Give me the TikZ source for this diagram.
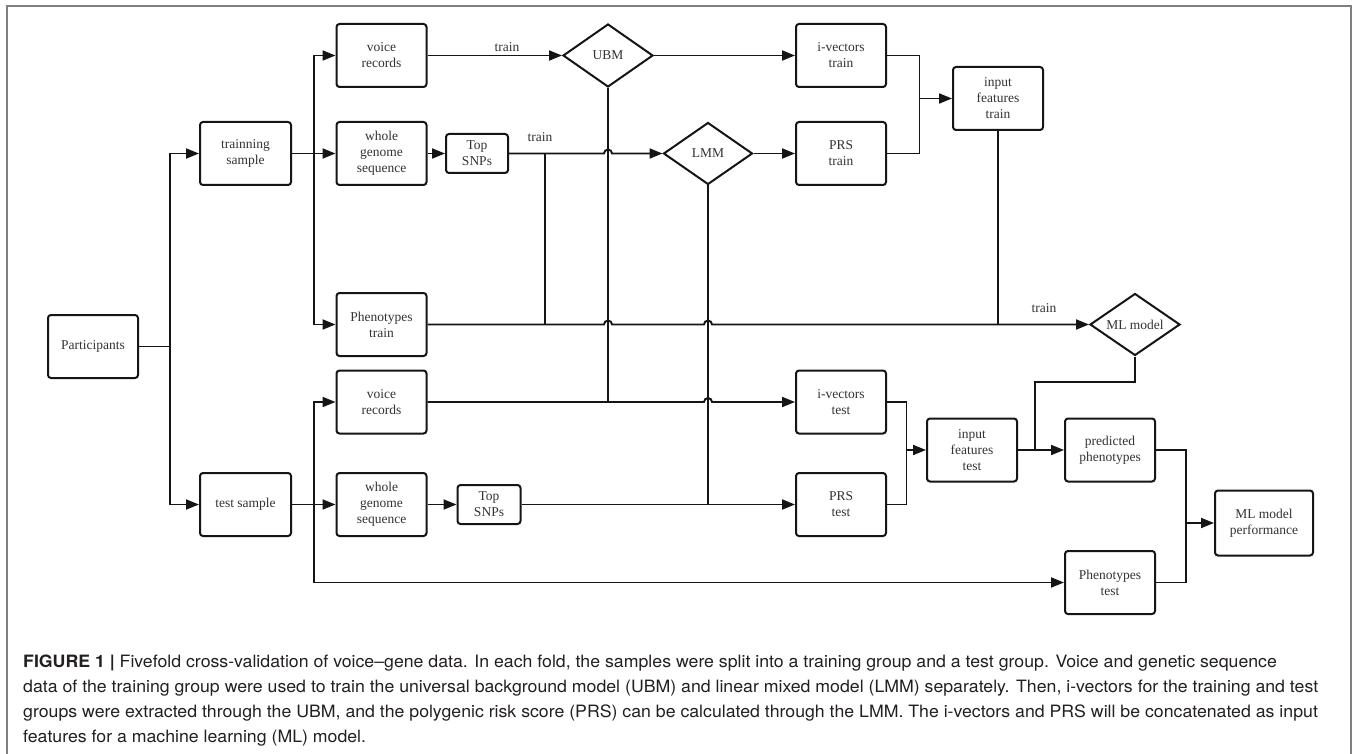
\documentclass[tikz,border=0pt]{standalone}
\usepackage{fontspec}
\setmainfont{Liberation Serif}
\newfontfamily\capfont{TeX Gyre Heros}
\usetikzlibrary{arrows.meta,shapes.geometric,calc}
\definecolor{txt}{HTML}{333333}
\definecolor{ln}{HTML}{151515}
\definecolor{frm}{HTML}{808080}
\definecolor{captxt}{HTML}{231F20}
\newsavebox\capbox
\begin{document}
\sbox\capbox{\capfont\fontsize{17}{25}\selectfont data of the training group were used to train the universal background model (UBM) and linear mixed model (LMM) separately. Then, i-vectors for the training and test}%
\pgfmathsetmacro\capsc{1295/\the\wd\capbox}%
\begin{tikzpicture}[x=1pt,y=-1pt,
  box/.style={draw=ln,line width=2pt,rounded corners=3pt,inner sep=0pt,align=center,text=txt,font=\fontsize{13.5}{16}\selectfont},
  sz/.style 2 args={minimum width=#1pt,minimum height=#2pt},
  dia/.style={draw=ln,line width=2pt,diamond,aspect=1.45,inner sep=0pt,text=txt,font=\fontsize{13.5}{16}\selectfont},
  conn/.style={draw=ln,line width=1.9pt},
  arr/.style={conn,-{Triangle[length=13pt,width=10pt]}},
  lbl/.style={text=txt,font=\fontsize{13.5}{16}\selectfont,inner sep=0pt},
  captionline/.style={anchor=base west,inner sep=0pt,text=captxt,font=\capfont\fontsize{17}{25}\selectfont}
]
\useasboundingbox (0,0) rectangle (1354,754);
\fill[white] (0,0) rectangle (1354,754);
\draw[frm,line width=1.4pt] (7,754) -- (7,6) -- (1351,6) -- (1351,754);

% nodes
\node[box,sz={90}{63}] (part) at (93,346.5) {Participants};
\node[box,sz={91}{63}] (trs) at (245.5,153.5) {trainning\\sample};
\node[box,sz={91}{63}] (tes) at (245.5,504.5) {test sample};
\node[box,sz={90}{63}] (vr1) at (381.5,55.5) {voice\\records};
\node[box,sz={90}{63}] (wg1) at (381.5,153.5) {whole\\genome\\sequence};
\node[box,sz={90}{63}] (ph1) at (381.5,324.5) {Phenotypes\\train};
\node[box,sz={62}{39}] (snp1) at (477,153.5) {Top\\SNPs};
\node[dia,minimum width=90pt,minimum height=63pt] (ubm) at (608,55.5) {UBM};
\node[dia,minimum width=89pt,minimum height=62pt] (lmm) at (708,153.5) {LMM};
\node[box,sz={90}{63}] (iv1) at (841,55.5) {i-vectors\\train};
\node[box,sz={90}{63}] (prs1) at (841,153.5) {PRS\\train};
\node[box,sz={90}{63}] (inf1) at (998,98.5) {input\\features\\train};
\node[dia,minimum width=90pt,minimum height=62pt] (ml) at (1135,324.5) {ML model};
\node[box,sz={90}{63}] (vr2) at (381.5,402) {voice\\records};
\node[box,sz={90}{63}] (wg2) at (381.5,504.5) {whole\\genome\\sequence};
\node[box,sz={63}{39}] (snp2) at (489,504.5) {Top\\SNPs};
\node[box,sz={90}{63}] (iv2) at (841,402) {i-vectors\\test};
\node[box,sz={90}{63}] (prs2) at (841,504.5) {PRS\\test};
\node[box,sz={90}{63}] (inf2) at (972,450) {input\\features\\test};
\node[box,sz={90}{63}] (pred) at (1110,450) {predicted\\phenotypes};
\node[box,sz={90}{63}] (ph2) at (1110,582.5) {Phenotypes\\test};
\node[box,sz={98}{65}] (perf) at (1264,523) {ML model\\performance};

% connectors
\coordinate (c1) at (170,346.5);
\draw[conn] (part.east) -- (c1);
\draw[arr] (c1) |- (trs.west);
\draw[arr] (c1) |- (tes.west);

\coordinate (c2) at ($(trs.east)!0.5!(wg1.west)$);
\draw[arr] (trs.east) -- (wg1.west);
\draw[arr] (c2) |- (vr1.west);
\draw[arr] (c2) |- (ph1.west);

\coordinate (c3) at ($(tes.east)!0.5!(wg2.west)$);
\draw[arr] (tes.east) -- (wg2.west);
\draw[arr] (c3) |- (vr2.west);
\draw[arr] (c3) |- (ph2.west);

\draw[arr] (vr1.east) -- (ubm.west);
\node[lbl] (t1) at (507,47) {train};
\draw[arr] (wg1.east) -- (snp1.west);
\draw[arr] (snp1.east) -- ($(ubm.south |- snp1.east)+(-4,0)$) arc[start angle=180,end angle=360,radius=4] -- (lmm.west);
\node[lbl] (t2) at (540,137) {train};
\coordinate (c4) at (545,153.5);
\draw[conn] (c4) -- (c4 |- ph1.east);

\draw[arr] (ph1.east) -- ($(ubm.south |- ph1.east)+(-4,0)$) arc[start angle=180,end angle=360,radius=4]
  -- ($(lmm.south |- ph1.east)+(-4,0)$) arc[start angle=180,end angle=360,radius=4] -- (ml.west);
\node[lbl] (t3) at (1044,308) {train};
\draw[conn] (inf1.south) -- (inf1.south |- ml.west);

\draw[arr] (ubm.east) -- (iv1.west);
\draw[arr] (lmm.east) -- (prs1.west);
\coordinate (m1) at (919.5,98.5);
\draw[conn] (iv1.east) -| (m1);
\draw[conn] (prs1.east) -| (m1);
\draw[arr] (m1) -- (inf1.west);

\draw[conn] (ubm.south) -- (ubm.south |- vr2.east);
\draw[arr] (vr2.east) -- ($(lmm.south |- vr2.east)+(-4,0)$) arc[start angle=180,end angle=360,radius=4] -- (iv2.west);
\draw[arr] (wg2.east) -- (snp2.west);
\draw[conn] (lmm.south) -- (lmm.south |- snp2.east);
\draw[arr] (snp2.east) -- (prs2.west);
\coordinate (m2) at (906.5,450);
\draw[conn] (iv2.east) -| (m2);
\draw[conn] (prs2.east) -| (m2);
\draw[arr] (m2) -- (inf2.west);

\draw[arr] (inf2.east) -- (pred.west);
\coordinate (c5) at (1035,450);
\coordinate (c6) at (1135,382);
\draw[conn] (ml.south) -- (c6) -| (c5);

\coordinate (m3) at (1186,523);
\draw[conn] (pred.east) -| (m3);
\draw[conn] (ph2.east) -| (m3);
\draw[arr] (m3) -- (perf.west);

% caption
\node[captionline] (cap1) at (23,667) {\scalebox{\capsc}[1]{\textbf{FIGURE 1 |} Fivefold cross-validation of voice–gene data. In each fold, the samples were split into a training group and a test group. Voice and genetic sequence}};
\node[captionline] (cap2) at (23,692) {\scalebox{\capsc}[1]{data of the training group were used to train the universal background model (UBM) and linear mixed model (LMM) separately. Then, i-vectors for the training and test}};
\node[captionline] (cap3) at (23,717) {\scalebox{\capsc}[1]{groups were extracted through the UBM, and the polygenic risk score (PRS) can be calculated through the LMM. The i-vectors and PRS will be concatenated as input}};
\node[captionline] (cap4) at (23,742) {\scalebox{\capsc}[1]{features for a machine learning (ML) model.}};
\end{tikzpicture}
\end{document}
